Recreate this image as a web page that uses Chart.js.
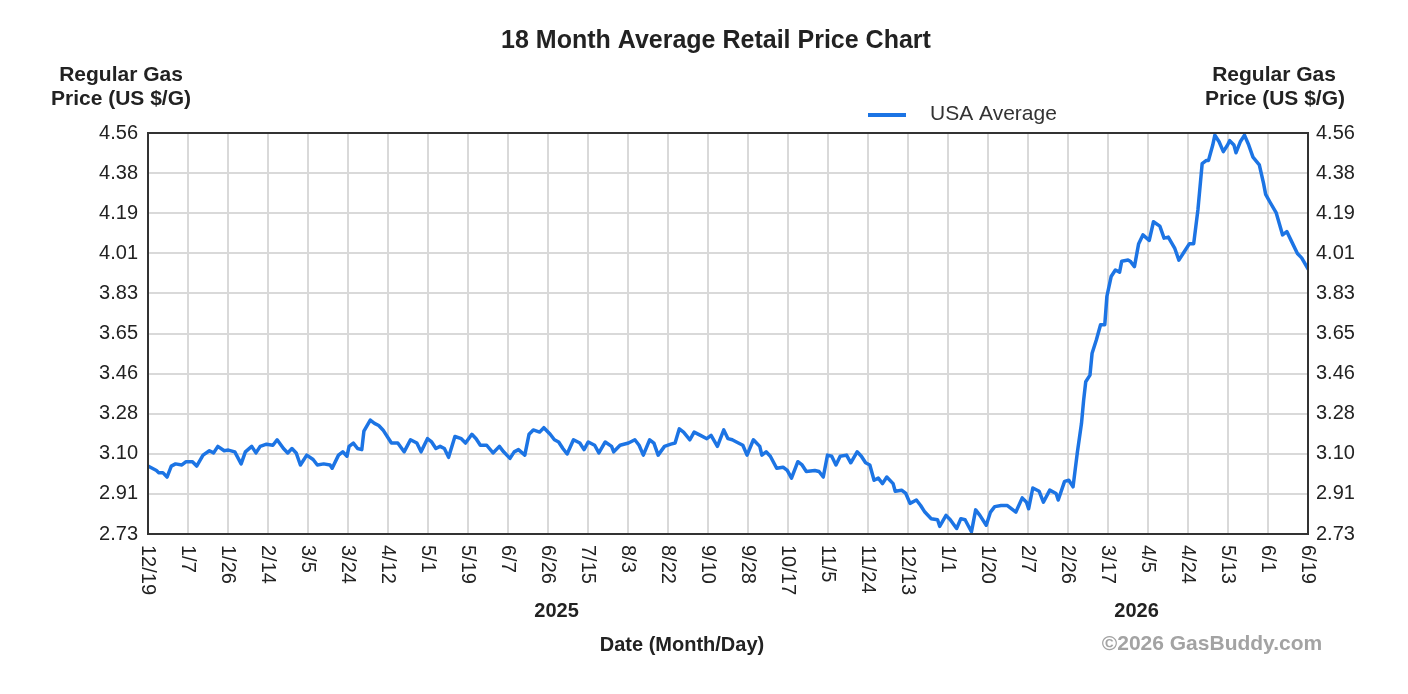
<!DOCTYPE html>
<html>
<head>
<meta charset="utf-8">
<title>18 Month Average Retail Price Chart</title>
<script src="https://cdn.jsdelivr.net/npm/chart.js@4.4.1/dist/chart.umd.min.js"></script>
<style>
  html, body { margin: 0; padding: 0; background: #fff; }
  canvas { display: block; }
</style>
</head>
<body>
<canvas id="chart" width="1408" height="694"></canvas>
<script>
// day 0 = 12/19/2024, last day = 6/19/2026
const totalDays = 548;

const tickLabels = ['12/19', '1/7', '1/26', '2/14', '3/5', '3/24', '4/12', '5/1', '5/19', '6/7',
    '6/26', '7/15', '8/3', '8/22', '9/10', '9/28', '10/17', '11/5', '11/24', '12/13',
    '1/1', '1/20', '2/7', '2/26', '3/17', '4/5', '4/24', '5/13', '6/1', '6/19'];

const yTickLabels = ['2.73', '2.91', '3.10', '3.28', '3.46', '3.65', '3.83', '4.01', '4.19', '4.38', '4.56'];

const yearLabels = ['2025', '2026'];
const yearDay = [193, 467];

const days = [0, 2, 4, 5, 7, 9, 11, 13, 16, 18, 21, 23, 26, 29, 31, 33, 36, 38, 41, 44,
    46, 49, 51, 53, 56, 59, 61, 64, 66, 68, 70, 72, 75, 78, 80, 83, 86, 87, 90, 92,
    94, 95, 97, 99, 101, 102, 105, 107, 109, 111, 115, 118, 121, 124, 127, 129, 132, 134, 136, 138,
    140, 142, 145, 148, 150, 153, 155, 157, 160, 163, 166, 168, 171, 173, 175, 178, 180, 182, 185, 187,
    190, 192, 194, 196, 198, 201, 204, 206, 208, 211, 213, 216, 219, 220, 223, 227, 230, 232, 234, 237,
    239, 241, 244, 247, 249, 251, 253, 256, 258, 261, 264, 266, 269, 272, 274, 276, 278, 281, 283, 286,
    289, 290, 292, 294, 297, 300, 302, 304, 307, 309, 311, 315, 317, 319, 321, 323, 325, 327, 330, 332,
    335, 337, 339, 341, 343, 345, 347, 349, 352, 353, 356, 358, 360, 363, 365, 367, 370, 373, 374, 377,
    379, 382, 384, 386, 389, 391, 393, 396, 398, 400, 403, 406, 408, 410, 413, 415, 416, 418, 421, 423,
    426, 429, 430, 433, 435, 437, 439, 441, 442, 443, 445, 446, 448, 450, 452, 453, 455, 457, 459, 460,
    463, 464, 466, 468, 470, 473, 475, 478, 480, 482, 485, 487, 489, 492, 494, 496, 498, 500, 501, 503,
    504, 506, 508, 510, 511, 513, 514, 516, 518, 520, 522, 525, 527, 528, 530, 533, 536, 538, 540, 543,
    545, 548];

const prices = [3.04, 3.03, 3.02, 3.01, 3.01, 2.99, 3.04, 3.05, 3.045, 3.06, 3.06, 3.04, 3.09, 3.11, 3.10, 3.13, 3.11, 3.113, 3.105, 3.05,
    3.105, 3.13, 3.10, 3.13, 3.14, 3.135, 3.16, 3.12, 3.10, 3.12, 3.10, 3.045, 3.09, 3.07, 3.045, 3.05, 3.045, 3.03, 3.09, 3.105,
    3.085, 3.13, 3.145, 3.12, 3.115, 3.20, 3.25, 3.235, 3.225, 3.205, 3.145, 3.145, 3.105, 3.16, 3.145, 3.105, 3.165, 3.15, 3.12, 3.13,
    3.12, 3.08, 3.175, 3.165, 3.145, 3.185, 3.165, 3.135, 3.135, 3.10, 3.13, 3.105, 3.075, 3.105, 3.115, 3.09, 3.185, 3.205, 3.195, 3.215,
    3.185, 3.16, 3.15, 3.12, 3.095, 3.16, 3.145, 3.115, 3.15, 3.135, 3.10, 3.15, 3.13, 3.105, 3.135, 3.145, 3.16, 3.135, 3.09, 3.16,
    3.145, 3.09, 3.13, 3.14, 3.145, 3.21, 3.195, 3.16, 3.195, 3.18, 3.165, 3.18, 3.13, 3.205, 3.165, 3.16, 3.15, 3.135, 3.09, 3.16,
    3.13, 3.09, 3.105, 3.085, 3.03, 3.035, 3.02, 2.985, 3.06, 3.045, 3.015, 3.02, 3.015, 2.99, 3.09, 3.085, 3.045, 3.085, 3.09, 3.055,
    3.105, 3.085, 3.055, 3.045, 2.975, 2.985, 2.96, 2.99, 2.96, 2.925, 2.93, 2.915, 2.87, 2.885, 2.86, 2.83, 2.80, 2.795, 2.765, 2.815,
    2.795, 2.755, 2.80, 2.795, 2.74, 2.84, 2.815, 2.77, 2.83, 2.855, 2.86, 2.86, 2.845, 2.83, 2.895, 2.875, 2.845, 2.94, 2.925, 2.875,
    2.93, 2.915, 2.885, 2.97, 2.975, 2.945, 3.10, 3.235, 3.34, 3.425, 3.455, 3.555, 3.615, 3.685, 3.685, 3.815, 3.905, 3.935, 3.925, 3.975,
    3.98, 3.975, 3.95, 4.055, 4.095, 4.07, 4.155, 4.135, 4.08, 4.085, 4.035, 3.98, 4.01, 4.055, 4.055, 4.21, 4.42, 4.435, 4.435, 4.505,
    4.55, 4.52, 4.475, 4.505, 4.525, 4.505, 4.47, 4.52, 4.55, 4.505, 4.45, 4.415, 4.33, 4.28, 4.245, 4.195, 4.095, 4.11, 4.07, 4.01,
    3.99, 3.94];

const seriesName = 'USA Average';
const lineColor = '#1c74e4';
const gridColor = '#d9d9d9';
const textColor = '#222';
const fontName = '"Liberation Sans", Arial, sans-serif';

const yMin = 2.73;
const yMax = 4.56;
const yStep = (yMax - yMin) / (yTickLabels.length - 1);

function yTicks(scale) {
    scale.ticks = yTickLabels.map((s, i) => ({value: yMin + i * yStep}));
}

function xTicks(scale) {
    const step = totalDays / (tickLabels.length - 1);
    scale.ticks = tickLabels.map((s, i) => ({value: i * step}));
}

const extras = {
    id: 'extras',
    afterDraw(chart) {
        const ctx = chart.ctx;
        const area = chart.chartArea;
        const xs = chart.scales.x;
        ctx.save();

        ctx.strokeStyle = '#333';
        ctx.lineWidth = 2;
        ctx.strokeRect(area.left, area.top, area.right - area.left, area.bottom - area.top);

        ctx.fillStyle = textColor;
        ctx.textAlign = 'center';
        ctx.textBaseline = 'middle';
        ctx.font = 'bold 25px ' + fontName;
        ctx.fillText('18 Month Average Retail Price Chart', 716, 41);

        ctx.font = 'bold 21px ' + fontName;
        ctx.fillText('Regular Gas', 121, 75);
        ctx.fillText('Price (US $/G)', 121, 99);
        ctx.fillText('Regular Gas', 1274, 75);
        ctx.fillText('Price (US $/G)', 1275, 99);

        // legend
        ctx.strokeStyle = lineColor;
        ctx.lineWidth = 4;
        ctx.beginPath();
        ctx.moveTo(868, 115);
        ctx.lineTo(906, 115);
        ctx.stroke();
        ctx.fillStyle = '#333';
        ctx.textAlign = 'left';
        ctx.font = '21px ' + fontName;
        ctx.fillText(seriesName, 930, 114);

        // x tick labels, read top to bottom
        ctx.fillStyle = textColor;
        ctx.font = '20px ' + fontName;
        xs.ticks.forEach((t, i) => {
            const px = xs.getPixelForValue(t.value);
            ctx.save();
            ctx.translate(px, area.bottom + 11);
            ctx.rotate(Math.PI / 2);
            ctx.textAlign = 'left';
            ctx.textBaseline = 'middle';
            ctx.fillText(tickLabels[i], 0, 0);
            ctx.restore();
        });

        ctx.textAlign = 'center';
        ctx.font = 'bold 20px ' + fontName;
        yearLabels.forEach((y, i) => {
            ctx.fillText(y, xs.getPixelForValue(yearDay[i]), 611);
        });
        ctx.fillText('Date (Month/Day)', 682, 645);

        ctx.fillStyle = '#a3a3a3';
        ctx.font = 'bold 21px ' + fontName;
        ctx.fillText('\u00a92026 GasBuddy.com', 1212, 644);
        ctx.restore();
    }
};

const canvas = document.getElementById('chart');

let priceChart = new Chart(canvas, {
    type: 'line',
    data: {
        datasets: [{
            label: seriesName,
            data: days.map((d, i) => ({x: d, y: prices[i]})),
            borderColor: lineColor,
            borderWidth: 3.5,
            borderJoinStyle: 'round',
            borderCapStyle: 'round',
            pointRadius: 0,
            tension: 0,
            fill: false,
            yAxisID: 'y'
        }]
    },
    options: {
        responsive: false,
        devicePixelRatio: 1,
        animation: false,
        layout: {
            padding: {top: 133, left: 0, right: 0, bottom: 0}
        },
        plugins: {
            legend: {display: false},
            title: {display: false},
            tooltip: {enabled: false}
        },
        scales: {
            x: {
                type: 'linear',
                position: 'bottom',
                min: 0,
                max: totalDays,
                afterBuildTicks: xTicks,
                afterFit: (scale) => { scale.height = 160; },
                grid: {color: gridColor, lineWidth: 2, drawTicks: false},
                border: {display: false},
                ticks: {display: false}
            },
            y: {
                type: 'linear',
                position: 'left',
                min: yMin,
                max: yMax,
                afterBuildTicks: yTicks,
                afterFit: (scale) => { scale.width = 148; },
                grid: {color: gridColor, lineWidth: 2, drawTicks: false},
                border: {display: false},
                ticks: {
                    padding: 10,
                    color: textColor,
                    font: {family: fontName, size: 20},
                    callback: (v, i) => yTickLabels[i]
                }
            },
            y2: {
                type: 'linear',
                position: 'right',
                min: yMin,
                max: yMax,
                afterBuildTicks: yTicks,
                afterFit: (scale) => { scale.width = 100; },
                grid: {display: false, drawTicks: false},
                border: {display: false},
                ticks: {
                    padding: 8,
                    color: textColor,
                    font: {family: fontName, size: 20},
                    callback: (v, i) => yTickLabels[i]
                }
            }
        }
    },
    plugins: [extras]
});
</script>
</body>
</html>
